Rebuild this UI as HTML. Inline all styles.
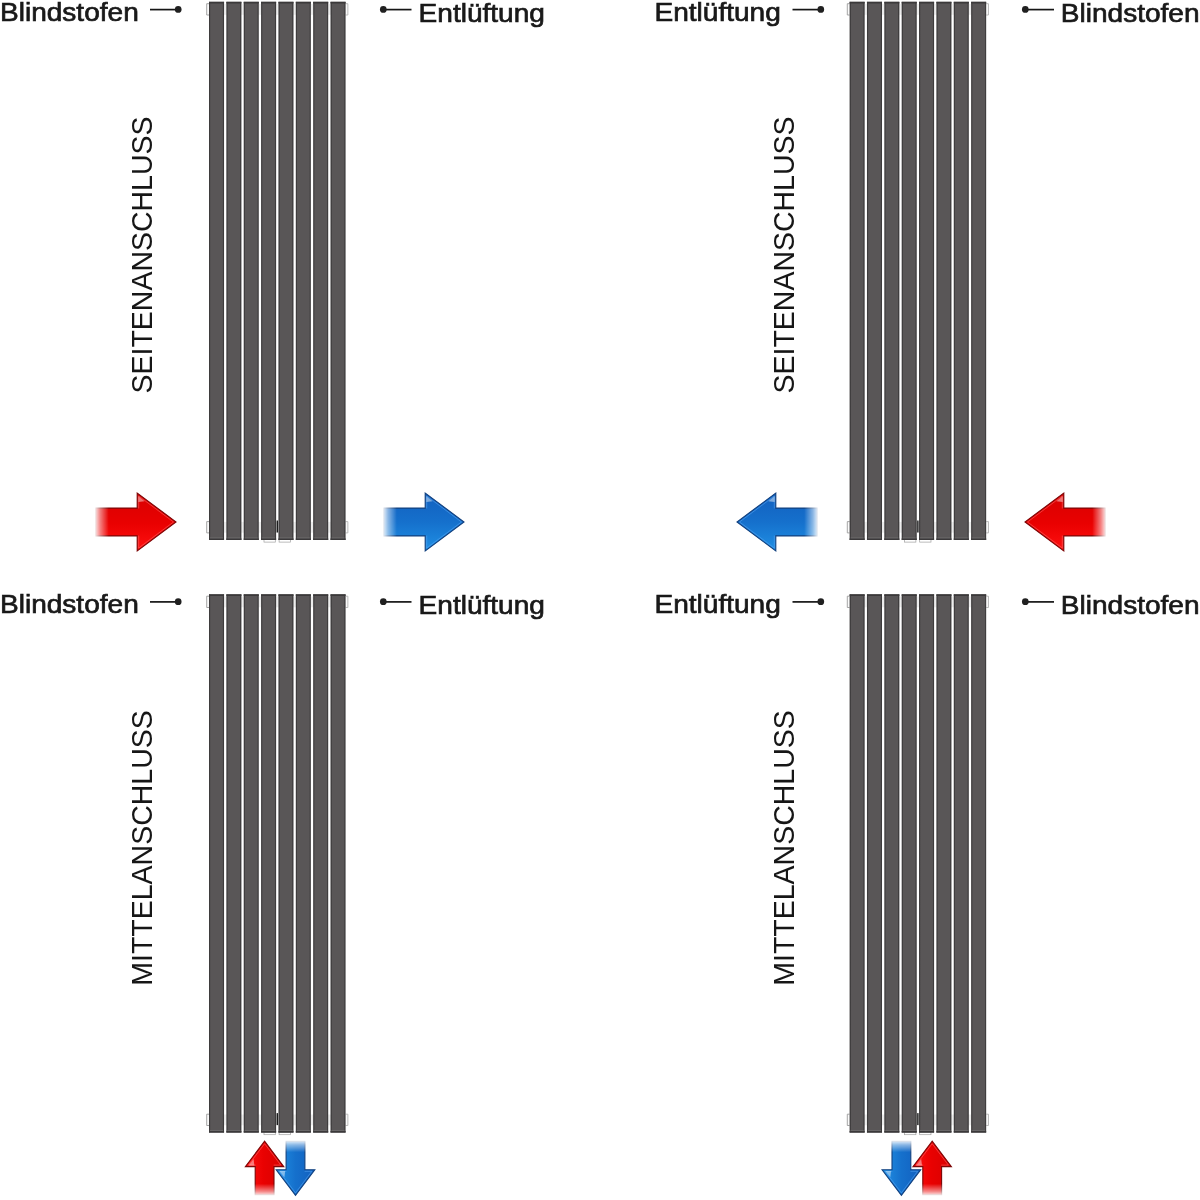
<!DOCTYPE html>
<html><head><meta charset="utf-8"><title>Anschluss</title>
<style>
html,body{margin:0;padding:0;background:#fff;}
body{width:1200px;height:1200px;overflow:hidden;font-family:"Liberation Sans",sans-serif;}
svg{display:block;font-family:"Liberation Sans",sans-serif;opacity:0.999;will-change:transform;}
</style></head><body>
<svg width="1200" height="1200" viewBox="0 0 1200 1200">
<defs>
<linearGradient id="bar" x1="0" x2="1" y1="0" y2="0">
<stop offset="0" stop-color="#3b393a"/><stop offset="0.06" stop-color="#403e3f"/><stop offset="0.11" stop-color="#595657"/><stop offset="0.89" stop-color="#595657"/><stop offset="0.94" stop-color="#403e3f"/><stop offset="1" stop-color="#3b393a"/>
</linearGradient>
<linearGradient id="redH" x1="0" x2="0" y1="0" y2="1">
<stop offset="0" stop-color="#d80000"/><stop offset="0.5" stop-color="#e80000"/><stop offset="1" stop-color="#ff1010"/>
</linearGradient>
<linearGradient id="blueH" x1="0" x2="0" y1="0" y2="1">
<stop offset="0" stop-color="#1260bf"/><stop offset="0.5" stop-color="#1570cc"/><stop offset="1" stop-color="#2090e4"/>
</linearGradient>
<linearGradient id="redV" x1="0" x2="1" y1="0" y2="0">
<stop offset="0" stop-color="#ff1010"/><stop offset="0.5" stop-color="#e80000"/><stop offset="1" stop-color="#d80000"/>
</linearGradient>
<linearGradient id="blueV" x1="0" x2="1" y1="0" y2="0">
<stop offset="0" stop-color="#2090e4"/><stop offset="0.5" stop-color="#1570cc"/><stop offset="1" stop-color="#1260bf"/>
</linearGradient>

<linearGradient id="ag0" gradientUnits="userSpaceOnUse" x1="95.50" y1="522.00" x2="108.80" y2="522.00"><stop offset="0" stop-color="#fff" stop-opacity="0.12"/><stop offset="0.35" stop-color="#fff" stop-opacity="0.5"/><stop offset="1" stop-color="#fff" stop-opacity="1"/></linearGradient><mask id="am0" maskUnits="userSpaceOnUse" x="0" y="0" width="1200" height="1200"><rect x="0" y="0" width="1200" height="1200" fill="url(#ag0)"/></mask>
<linearGradient id="ag1" gradientUnits="userSpaceOnUse" x1="383.50" y1="522.00" x2="396.80" y2="522.00"><stop offset="0" stop-color="#fff" stop-opacity="0.12"/><stop offset="0.35" stop-color="#fff" stop-opacity="0.5"/><stop offset="1" stop-color="#fff" stop-opacity="1"/></linearGradient><mask id="am1" maskUnits="userSpaceOnUse" x="0" y="0" width="1200" height="1200"><rect x="0" y="0" width="1200" height="1200" fill="url(#ag1)"/></mask>
<linearGradient id="ag2" gradientUnits="userSpaceOnUse" x1="817.50" y1="522.00" x2="804.20" y2="522.00"><stop offset="0" stop-color="#fff" stop-opacity="0.12"/><stop offset="0.35" stop-color="#fff" stop-opacity="0.5"/><stop offset="1" stop-color="#fff" stop-opacity="1"/></linearGradient><mask id="am2" maskUnits="userSpaceOnUse" x="0" y="0" width="1200" height="1200"><rect x="0" y="0" width="1200" height="1200" fill="url(#ag2)"/></mask>
<linearGradient id="ag3" gradientUnits="userSpaceOnUse" x1="1105.50" y1="522.00" x2="1092.20" y2="522.00"><stop offset="0" stop-color="#fff" stop-opacity="0.12"/><stop offset="0.35" stop-color="#fff" stop-opacity="0.5"/><stop offset="1" stop-color="#fff" stop-opacity="1"/></linearGradient><mask id="am3" maskUnits="userSpaceOnUse" x="0" y="0" width="1200" height="1200"><rect x="0" y="0" width="1200" height="1200" fill="url(#ag3)"/></mask>
<linearGradient id="ag4" gradientUnits="userSpaceOnUse" x1="264.60" y1="1195.10" x2="264.60" y2="1183.80"><stop offset="0" stop-color="#fff" stop-opacity="0.12"/><stop offset="0.35" stop-color="#fff" stop-opacity="0.5"/><stop offset="1" stop-color="#fff" stop-opacity="1"/></linearGradient><mask id="am4" maskUnits="userSpaceOnUse" x="0" y="0" width="1200" height="1200"><rect x="0" y="0" width="1200" height="1200" fill="url(#ag4)"/></mask>
<linearGradient id="ag5" gradientUnits="userSpaceOnUse" x1="295.50" y1="1140.90" x2="295.50" y2="1152.20"><stop offset="0" stop-color="#fff" stop-opacity="0.12"/><stop offset="0.35" stop-color="#fff" stop-opacity="0.5"/><stop offset="1" stop-color="#fff" stop-opacity="1"/></linearGradient><mask id="am5" maskUnits="userSpaceOnUse" x="0" y="0" width="1200" height="1200"><rect x="0" y="0" width="1200" height="1200" fill="url(#ag5)"/></mask>
<linearGradient id="ag6" gradientUnits="userSpaceOnUse" x1="901.40" y1="1140.90" x2="901.40" y2="1152.20"><stop offset="0" stop-color="#fff" stop-opacity="0.12"/><stop offset="0.35" stop-color="#fff" stop-opacity="0.5"/><stop offset="1" stop-color="#fff" stop-opacity="1"/></linearGradient><mask id="am6" maskUnits="userSpaceOnUse" x="0" y="0" width="1200" height="1200"><rect x="0" y="0" width="1200" height="1200" fill="url(#ag6)"/></mask>
<linearGradient id="ag7" gradientUnits="userSpaceOnUse" x1="932.20" y1="1195.10" x2="932.20" y2="1183.80"><stop offset="0" stop-color="#fff" stop-opacity="0.12"/><stop offset="0.35" stop-color="#fff" stop-opacity="0.5"/><stop offset="1" stop-color="#fff" stop-opacity="1"/></linearGradient><mask id="am7" maskUnits="userSpaceOnUse" x="0" y="0" width="1200" height="1200"><rect x="0" y="0" width="1200" height="1200" fill="url(#ag7)"/></mask>
</defs>
<rect width="1200" height="1200" fill="#fff"/>
<path d="M209.00,3.70 H206.70 V15.00 H209.00" fill="#fafafa" stroke="#9c9c9c" stroke-width="0.9"/>
<path d="M345.57,3.70 H347.87 V15.00 H345.57" fill="#fafafa" stroke="#b4b4b4" stroke-width="0.9"/>
<path d="M209.00,521.60 H206.70 V532.90 H209.00" fill="#fafafa" stroke="#9c9c9c" stroke-width="0.9"/>
<path d="M345.57,521.60 H347.87 V532.90 H345.57" fill="#fafafa" stroke="#b4b4b4" stroke-width="0.9"/>
<rect x="209.00" y="4.00" width="136.57" height="10.8" fill="#ededed"/>
<rect x="209.00" y="521.90" width="136.57" height="10.8" fill="#ededed"/>
<rect x="263.99" y="539.50" width="11.3" height="2.6" fill="#fff" stroke="#a0a0a0" stroke-width="0.7"/>
<rect x="279.09" y="539.50" width="11.3" height="2.6" fill="#fff" stroke="#a0a0a0" stroke-width="0.7"/>
<rect x="209.00" y="1.80" width="15.05" height="538.20" fill="url(#bar)"/>
<rect x="209.00" y="1.80" width="15.05" height="1.7" fill="#3b393a"/>
<rect x="209.00" y="538.40" width="15.05" height="1.6" fill="#3b393a"/>
<rect x="210.00" y="537.50" width="13.05" height="0.8" fill="#6e6c6d"/>
<rect x="226.36" y="1.80" width="15.05" height="538.20" fill="url(#bar)"/>
<rect x="226.36" y="1.80" width="15.05" height="1.7" fill="#3b393a"/>
<rect x="226.36" y="538.40" width="15.05" height="1.6" fill="#3b393a"/>
<rect x="227.36" y="537.50" width="13.05" height="0.8" fill="#6e6c6d"/>
<rect x="243.72" y="1.80" width="15.05" height="538.20" fill="url(#bar)"/>
<rect x="243.72" y="1.80" width="15.05" height="1.7" fill="#3b393a"/>
<rect x="243.72" y="538.40" width="15.05" height="1.6" fill="#3b393a"/>
<rect x="244.72" y="537.50" width="13.05" height="0.8" fill="#6e6c6d"/>
<rect x="261.08" y="1.80" width="15.05" height="538.20" fill="url(#bar)"/>
<rect x="261.08" y="1.80" width="15.05" height="1.7" fill="#3b393a"/>
<rect x="261.08" y="538.40" width="15.05" height="1.6" fill="#3b393a"/>
<rect x="262.08" y="537.50" width="13.05" height="0.8" fill="#6e6c6d"/>
<rect x="278.44" y="1.80" width="15.05" height="538.20" fill="url(#bar)"/>
<rect x="278.44" y="1.80" width="15.05" height="1.7" fill="#3b393a"/>
<rect x="278.44" y="538.40" width="15.05" height="1.6" fill="#3b393a"/>
<rect x="279.44" y="537.50" width="13.05" height="0.8" fill="#6e6c6d"/>
<rect x="295.80" y="1.80" width="15.05" height="538.20" fill="url(#bar)"/>
<rect x="295.80" y="1.80" width="15.05" height="1.7" fill="#3b393a"/>
<rect x="295.80" y="538.40" width="15.05" height="1.6" fill="#3b393a"/>
<rect x="296.80" y="537.50" width="13.05" height="0.8" fill="#6e6c6d"/>
<rect x="313.16" y="1.80" width="15.05" height="538.20" fill="url(#bar)"/>
<rect x="313.16" y="1.80" width="15.05" height="1.7" fill="#3b393a"/>
<rect x="313.16" y="538.40" width="15.05" height="1.6" fill="#3b393a"/>
<rect x="314.16" y="537.50" width="13.05" height="0.8" fill="#6e6c6d"/>
<rect x="330.52" y="1.80" width="15.05" height="538.20" fill="url(#bar)"/>
<rect x="330.52" y="1.80" width="15.05" height="1.7" fill="#3b393a"/>
<rect x="330.52" y="538.40" width="15.05" height="1.6" fill="#3b393a"/>
<rect x="331.52" y="537.50" width="13.05" height="0.8" fill="#6e6c6d"/>
<rect x="276.59" y="520.50" width="1.4" height="12" fill="#1c1c1c"/>
<path d="M209.00,596.20 H206.70 V607.50 H209.00" fill="#fafafa" stroke="#9c9c9c" stroke-width="0.9"/>
<path d="M345.57,596.20 H347.87 V607.50 H345.57" fill="#fafafa" stroke="#b4b4b4" stroke-width="0.9"/>
<path d="M209.00,1114.20 H206.70 V1125.50 H209.00" fill="#fafafa" stroke="#9c9c9c" stroke-width="0.9"/>
<path d="M345.57,1114.20 H347.87 V1125.50 H345.57" fill="#fafafa" stroke="#b4b4b4" stroke-width="0.9"/>
<rect x="209.00" y="596.50" width="136.57" height="10.8" fill="#ededed"/>
<rect x="209.00" y="1114.50" width="136.57" height="10.8" fill="#ededed"/>
<rect x="263.99" y="1132.10" width="11.3" height="2.6" fill="#fff" stroke="#a0a0a0" stroke-width="0.7"/>
<rect x="279.09" y="1132.10" width="11.3" height="2.6" fill="#fff" stroke="#a0a0a0" stroke-width="0.7"/>
<rect x="209.00" y="594.30" width="15.05" height="538.30" fill="url(#bar)"/>
<rect x="209.00" y="594.30" width="15.05" height="1.7" fill="#3b393a"/>
<rect x="209.00" y="1131.00" width="15.05" height="1.6" fill="#3b393a"/>
<rect x="210.00" y="1130.10" width="13.05" height="0.8" fill="#6e6c6d"/>
<rect x="226.36" y="594.30" width="15.05" height="538.30" fill="url(#bar)"/>
<rect x="226.36" y="594.30" width="15.05" height="1.7" fill="#3b393a"/>
<rect x="226.36" y="1131.00" width="15.05" height="1.6" fill="#3b393a"/>
<rect x="227.36" y="1130.10" width="13.05" height="0.8" fill="#6e6c6d"/>
<rect x="243.72" y="594.30" width="15.05" height="538.30" fill="url(#bar)"/>
<rect x="243.72" y="594.30" width="15.05" height="1.7" fill="#3b393a"/>
<rect x="243.72" y="1131.00" width="15.05" height="1.6" fill="#3b393a"/>
<rect x="244.72" y="1130.10" width="13.05" height="0.8" fill="#6e6c6d"/>
<rect x="261.08" y="594.30" width="15.05" height="538.30" fill="url(#bar)"/>
<rect x="261.08" y="594.30" width="15.05" height="1.7" fill="#3b393a"/>
<rect x="261.08" y="1131.00" width="15.05" height="1.6" fill="#3b393a"/>
<rect x="262.08" y="1130.10" width="13.05" height="0.8" fill="#6e6c6d"/>
<rect x="278.44" y="594.30" width="15.05" height="538.30" fill="url(#bar)"/>
<rect x="278.44" y="594.30" width="15.05" height="1.7" fill="#3b393a"/>
<rect x="278.44" y="1131.00" width="15.05" height="1.6" fill="#3b393a"/>
<rect x="279.44" y="1130.10" width="13.05" height="0.8" fill="#6e6c6d"/>
<rect x="295.80" y="594.30" width="15.05" height="538.30" fill="url(#bar)"/>
<rect x="295.80" y="594.30" width="15.05" height="1.7" fill="#3b393a"/>
<rect x="295.80" y="1131.00" width="15.05" height="1.6" fill="#3b393a"/>
<rect x="296.80" y="1130.10" width="13.05" height="0.8" fill="#6e6c6d"/>
<rect x="313.16" y="594.30" width="15.05" height="538.30" fill="url(#bar)"/>
<rect x="313.16" y="594.30" width="15.05" height="1.7" fill="#3b393a"/>
<rect x="313.16" y="1131.00" width="15.05" height="1.6" fill="#3b393a"/>
<rect x="314.16" y="1130.10" width="13.05" height="0.8" fill="#6e6c6d"/>
<rect x="330.52" y="594.30" width="15.05" height="538.30" fill="url(#bar)"/>
<rect x="330.52" y="594.30" width="15.05" height="1.7" fill="#3b393a"/>
<rect x="330.52" y="1131.00" width="15.05" height="1.6" fill="#3b393a"/>
<rect x="331.52" y="1130.10" width="13.05" height="0.8" fill="#6e6c6d"/>
<rect x="276.59" y="1113.10" width="1.4" height="12" fill="#1c1c1c"/>
<path d="M849.60,3.70 H847.30 V15.00 H849.60" fill="#fafafa" stroke="#9c9c9c" stroke-width="0.9"/>
<path d="M986.17,3.70 H988.47 V15.00 H986.17" fill="#fafafa" stroke="#b4b4b4" stroke-width="0.9"/>
<path d="M849.60,521.60 H847.30 V532.90 H849.60" fill="#fafafa" stroke="#9c9c9c" stroke-width="0.9"/>
<path d="M986.17,521.60 H988.47 V532.90 H986.17" fill="#fafafa" stroke="#b4b4b4" stroke-width="0.9"/>
<rect x="849.60" y="4.00" width="136.57" height="10.8" fill="#ededed"/>
<rect x="849.60" y="521.90" width="136.57" height="10.8" fill="#ededed"/>
<rect x="904.59" y="539.50" width="11.3" height="2.6" fill="#fff" stroke="#a0a0a0" stroke-width="0.7"/>
<rect x="919.68" y="539.50" width="11.3" height="2.6" fill="#fff" stroke="#a0a0a0" stroke-width="0.7"/>
<rect x="849.60" y="1.80" width="15.05" height="538.20" fill="url(#bar)"/>
<rect x="849.60" y="1.80" width="15.05" height="1.7" fill="#3b393a"/>
<rect x="849.60" y="538.40" width="15.05" height="1.6" fill="#3b393a"/>
<rect x="850.60" y="537.50" width="13.05" height="0.8" fill="#6e6c6d"/>
<rect x="866.96" y="1.80" width="15.05" height="538.20" fill="url(#bar)"/>
<rect x="866.96" y="1.80" width="15.05" height="1.7" fill="#3b393a"/>
<rect x="866.96" y="538.40" width="15.05" height="1.6" fill="#3b393a"/>
<rect x="867.96" y="537.50" width="13.05" height="0.8" fill="#6e6c6d"/>
<rect x="884.32" y="1.80" width="15.05" height="538.20" fill="url(#bar)"/>
<rect x="884.32" y="1.80" width="15.05" height="1.7" fill="#3b393a"/>
<rect x="884.32" y="538.40" width="15.05" height="1.6" fill="#3b393a"/>
<rect x="885.32" y="537.50" width="13.05" height="0.8" fill="#6e6c6d"/>
<rect x="901.68" y="1.80" width="15.05" height="538.20" fill="url(#bar)"/>
<rect x="901.68" y="1.80" width="15.05" height="1.7" fill="#3b393a"/>
<rect x="901.68" y="538.40" width="15.05" height="1.6" fill="#3b393a"/>
<rect x="902.68" y="537.50" width="13.05" height="0.8" fill="#6e6c6d"/>
<rect x="919.04" y="1.80" width="15.05" height="538.20" fill="url(#bar)"/>
<rect x="919.04" y="1.80" width="15.05" height="1.7" fill="#3b393a"/>
<rect x="919.04" y="538.40" width="15.05" height="1.6" fill="#3b393a"/>
<rect x="920.04" y="537.50" width="13.05" height="0.8" fill="#6e6c6d"/>
<rect x="936.40" y="1.80" width="15.05" height="538.20" fill="url(#bar)"/>
<rect x="936.40" y="1.80" width="15.05" height="1.7" fill="#3b393a"/>
<rect x="936.40" y="538.40" width="15.05" height="1.6" fill="#3b393a"/>
<rect x="937.40" y="537.50" width="13.05" height="0.8" fill="#6e6c6d"/>
<rect x="953.76" y="1.80" width="15.05" height="538.20" fill="url(#bar)"/>
<rect x="953.76" y="1.80" width="15.05" height="1.7" fill="#3b393a"/>
<rect x="953.76" y="538.40" width="15.05" height="1.6" fill="#3b393a"/>
<rect x="954.76" y="537.50" width="13.05" height="0.8" fill="#6e6c6d"/>
<rect x="971.12" y="1.80" width="15.05" height="538.20" fill="url(#bar)"/>
<rect x="971.12" y="1.80" width="15.05" height="1.7" fill="#3b393a"/>
<rect x="971.12" y="538.40" width="15.05" height="1.6" fill="#3b393a"/>
<rect x="972.12" y="537.50" width="13.05" height="0.8" fill="#6e6c6d"/>
<rect x="917.18" y="520.50" width="1.4" height="12" fill="#1c1c1c"/>
<path d="M849.60,596.20 H847.30 V607.50 H849.60" fill="#fafafa" stroke="#9c9c9c" stroke-width="0.9"/>
<path d="M986.17,596.20 H988.47 V607.50 H986.17" fill="#fafafa" stroke="#b4b4b4" stroke-width="0.9"/>
<path d="M849.60,1114.20 H847.30 V1125.50 H849.60" fill="#fafafa" stroke="#9c9c9c" stroke-width="0.9"/>
<path d="M986.17,1114.20 H988.47 V1125.50 H986.17" fill="#fafafa" stroke="#b4b4b4" stroke-width="0.9"/>
<rect x="849.60" y="596.50" width="136.57" height="10.8" fill="#ededed"/>
<rect x="849.60" y="1114.50" width="136.57" height="10.8" fill="#ededed"/>
<rect x="904.59" y="1132.10" width="11.3" height="2.6" fill="#fff" stroke="#a0a0a0" stroke-width="0.7"/>
<rect x="919.68" y="1132.10" width="11.3" height="2.6" fill="#fff" stroke="#a0a0a0" stroke-width="0.7"/>
<rect x="849.60" y="594.30" width="15.05" height="538.30" fill="url(#bar)"/>
<rect x="849.60" y="594.30" width="15.05" height="1.7" fill="#3b393a"/>
<rect x="849.60" y="1131.00" width="15.05" height="1.6" fill="#3b393a"/>
<rect x="850.60" y="1130.10" width="13.05" height="0.8" fill="#6e6c6d"/>
<rect x="866.96" y="594.30" width="15.05" height="538.30" fill="url(#bar)"/>
<rect x="866.96" y="594.30" width="15.05" height="1.7" fill="#3b393a"/>
<rect x="866.96" y="1131.00" width="15.05" height="1.6" fill="#3b393a"/>
<rect x="867.96" y="1130.10" width="13.05" height="0.8" fill="#6e6c6d"/>
<rect x="884.32" y="594.30" width="15.05" height="538.30" fill="url(#bar)"/>
<rect x="884.32" y="594.30" width="15.05" height="1.7" fill="#3b393a"/>
<rect x="884.32" y="1131.00" width="15.05" height="1.6" fill="#3b393a"/>
<rect x="885.32" y="1130.10" width="13.05" height="0.8" fill="#6e6c6d"/>
<rect x="901.68" y="594.30" width="15.05" height="538.30" fill="url(#bar)"/>
<rect x="901.68" y="594.30" width="15.05" height="1.7" fill="#3b393a"/>
<rect x="901.68" y="1131.00" width="15.05" height="1.6" fill="#3b393a"/>
<rect x="902.68" y="1130.10" width="13.05" height="0.8" fill="#6e6c6d"/>
<rect x="919.04" y="594.30" width="15.05" height="538.30" fill="url(#bar)"/>
<rect x="919.04" y="594.30" width="15.05" height="1.7" fill="#3b393a"/>
<rect x="919.04" y="1131.00" width="15.05" height="1.6" fill="#3b393a"/>
<rect x="920.04" y="1130.10" width="13.05" height="0.8" fill="#6e6c6d"/>
<rect x="936.40" y="594.30" width="15.05" height="538.30" fill="url(#bar)"/>
<rect x="936.40" y="594.30" width="15.05" height="1.7" fill="#3b393a"/>
<rect x="936.40" y="1131.00" width="15.05" height="1.6" fill="#3b393a"/>
<rect x="937.40" y="1130.10" width="13.05" height="0.8" fill="#6e6c6d"/>
<rect x="953.76" y="594.30" width="15.05" height="538.30" fill="url(#bar)"/>
<rect x="953.76" y="594.30" width="15.05" height="1.7" fill="#3b393a"/>
<rect x="953.76" y="1131.00" width="15.05" height="1.6" fill="#3b393a"/>
<rect x="954.76" y="1130.10" width="13.05" height="0.8" fill="#6e6c6d"/>
<rect x="971.12" y="594.30" width="15.05" height="538.30" fill="url(#bar)"/>
<rect x="971.12" y="594.30" width="15.05" height="1.7" fill="#3b393a"/>
<rect x="971.12" y="1131.00" width="15.05" height="1.6" fill="#3b393a"/>
<rect x="972.12" y="1130.10" width="13.05" height="0.8" fill="#6e6c6d"/>
<rect x="917.18" y="1113.10" width="1.4" height="12" fill="#1c1c1c"/>
<text transform="translate(0,20.6) scale(1.10,1)" font-size="25.5" fill="#1a1a1a" stroke="#151515" stroke-width="0.65">Blindstofen</text>
<line x1="150" y1="9.6" x2="176" y2="9.6" stroke="#161616" stroke-width="1.7"/>
<circle cx="178.2" cy="9.40" r="3.35" fill="#202020"/>
<text transform="translate(418.6,21.6) scale(1.10,1)" font-size="25.5" fill="#1a1a1a" stroke="#151515" stroke-width="0.65">Entlüftung</text>
<line x1="384" y1="9.6" x2="411.5" y2="9.6" stroke="#161616" stroke-width="1.7"/>
<circle cx="383.3" cy="9.40" r="3.35" fill="#202020"/>
<text transform="translate(654.5,20.6) scale(1.10,1)" font-size="25.5" fill="#1a1a1a" stroke="#151515" stroke-width="0.65">Entlüftung</text>
<line x1="792.5" y1="9.6" x2="819" y2="9.6" stroke="#161616" stroke-width="1.7"/>
<circle cx="820.8" cy="9.40" r="3.35" fill="#202020"/>
<text transform="translate(1060.8,21.6) scale(1.10,1)" font-size="25.5" fill="#1a1a1a" stroke="#151515" stroke-width="0.65">Blindstofen</text>
<line x1="1026" y1="9.6" x2="1054" y2="9.6" stroke="#161616" stroke-width="1.7"/>
<circle cx="1025.3" cy="9.40" r="3.35" fill="#202020"/>
<text transform="translate(0,612.9) scale(1.10,1)" font-size="25.5" fill="#1a1a1a" stroke="#151515" stroke-width="0.65">Blindstofen</text>
<line x1="150" y1="601.9" x2="176" y2="601.9" stroke="#161616" stroke-width="1.7"/>
<circle cx="178.2" cy="601.70" r="3.35" fill="#202020"/>
<text transform="translate(418.6,613.9) scale(1.10,1)" font-size="25.5" fill="#1a1a1a" stroke="#151515" stroke-width="0.65">Entlüftung</text>
<line x1="384" y1="601.9" x2="411.5" y2="601.9" stroke="#161616" stroke-width="1.7"/>
<circle cx="383.3" cy="601.70" r="3.35" fill="#202020"/>
<text transform="translate(654.5,612.9) scale(1.10,1)" font-size="25.5" fill="#1a1a1a" stroke="#151515" stroke-width="0.65">Entlüftung</text>
<line x1="792.5" y1="601.9" x2="819" y2="601.9" stroke="#161616" stroke-width="1.7"/>
<circle cx="820.8" cy="601.70" r="3.35" fill="#202020"/>
<text transform="translate(1060.8,613.9) scale(1.10,1)" font-size="25.5" fill="#1a1a1a" stroke="#151515" stroke-width="0.65">Blindstofen</text>
<line x1="1026" y1="601.9" x2="1054" y2="601.9" stroke="#161616" stroke-width="1.7"/>
<circle cx="1025.3" cy="601.70" r="3.35" fill="#202020"/>
<text transform="translate(151.6,255) rotate(-90) scale(1,1.04)" font-size="28.5" text-anchor="middle" fill="#161616">SEITENANSCHLUSS</text>
<text transform="translate(793.8,255) rotate(-90) scale(1,1.04)" font-size="28.5" text-anchor="middle" fill="#161616">SEITENANSCHLUSS</text>
<text transform="translate(151.6,848) rotate(-90) scale(1,1.04)" font-size="28.5" text-anchor="middle" fill="#161616">MITTELANSCHLUSS</text>
<text transform="translate(793.8,848) rotate(-90) scale(1,1.04)" font-size="28.5" text-anchor="middle" fill="#161616">MITTELANSCHLUSS</text>
<g mask="url(#am0)"><path d="M95.80,508.10 L137.20,508.10 L137.20,493.00 L176.00,522.00 L137.20,551.00 L137.20,535.90 L95.80,535.90 Z" fill="url(#redH)" stroke="#7c0606" stroke-width="1.1" stroke-linejoin="miter"/><path d="M138.70,508.40 L138.70,495.99 L173.49,522.00 L138.70,548.01 L138.70,535.60" fill="none" stroke="#ff6a6a" stroke-opacity="0.55" stroke-width="1"/><path d="M138.40,496.20 L138.40,502.00 L144.70,501.20 Z" fill="#fff" fill-opacity="0.45"/></g>
<g mask="url(#am1)"><path d="M383.80,508.10 L425.20,508.10 L425.20,493.00 L464.00,522.00 L425.20,551.00 L425.20,535.90 L383.80,535.90 Z" fill="url(#blueH)" stroke="#12407e" stroke-width="1.1" stroke-linejoin="miter"/><path d="M426.70,508.40 L426.70,495.99 L461.49,522.00 L426.70,548.01 L426.70,535.60" fill="none" stroke="#58a8f6" stroke-opacity="0.55" stroke-width="1"/><path d="M426.40,496.20 L426.40,502.00 L432.70,501.20 Z" fill="#fff" fill-opacity="0.45"/></g>
<g mask="url(#am2)"><path d="M817.20,508.10 L775.80,508.10 L775.80,493.00 L737.00,522.00 L775.80,551.00 L775.80,535.90 L817.20,535.90 Z" fill="url(#blueH)" stroke="#12407e" stroke-width="1.1" stroke-linejoin="miter"/><path d="M774.30,508.40 L774.30,495.99 L739.51,522.00 L774.30,548.01 L774.30,535.60" fill="none" stroke="#58a8f6" stroke-opacity="0.55" stroke-width="1"/><path d="M774.60,496.20 L774.60,502.00 L768.30,501.20 Z" fill="#fff" fill-opacity="0.45"/></g>
<g mask="url(#am3)"><path d="M1105.20,508.10 L1063.80,508.10 L1063.80,493.00 L1025.00,522.00 L1063.80,551.00 L1063.80,535.90 L1105.20,535.90 Z" fill="url(#redH)" stroke="#7c0606" stroke-width="1.1" stroke-linejoin="miter"/><path d="M1062.30,508.40 L1062.30,495.99 L1027.51,522.00 L1062.30,548.01 L1062.30,535.60" fill="none" stroke="#ff6a6a" stroke-opacity="0.55" stroke-width="1"/><path d="M1062.60,496.20 L1062.60,502.00 L1056.30,501.20 Z" fill="#fff" fill-opacity="0.45"/></g>
<g mask="url(#am4)"><path d="M255.20,1194.80 L255.20,1166.60 L245.40,1166.60 L264.60,1141.20 L283.80,1166.60 L274.00,1166.60 L274.00,1194.80 Z" fill="url(#redV)" stroke="#7c0606" stroke-width="1.1" stroke-linejoin="miter"/><path d="M255.50,1165.10 L248.41,1165.10 L264.60,1143.69 L280.79,1165.10 L273.70,1165.10" fill="none" stroke="#ff6a6a" stroke-opacity="0.55" stroke-width="1"/><path d="M248.60,1165.40 L254.40,1165.40 L253.60,1159.10 Z" fill="#fff" fill-opacity="0.45"/></g>
<g mask="url(#am5)"><path d="M286.10,1141.20 L286.10,1169.80 L276.20,1169.80 L295.50,1195.40 L314.80,1169.80 L304.90,1169.80 L304.90,1141.20 Z" fill="url(#blueV)" stroke="#12407e" stroke-width="1.1" stroke-linejoin="miter"/><path d="M286.40,1171.30 L279.21,1171.30 L295.50,1192.91 L311.79,1171.30 L304.60,1171.30" fill="none" stroke="#58a8f6" stroke-opacity="0.55" stroke-width="1"/><path d="M279.40,1171.00 L285.20,1171.00 L284.40,1177.30 Z" fill="#fff" fill-opacity="0.45"/></g>
<g mask="url(#am6)"><path d="M892.00,1141.20 L892.00,1169.80 L882.10,1169.80 L901.40,1195.40 L920.70,1169.80 L910.80,1169.80 L910.80,1141.20 Z" fill="url(#blueV)" stroke="#12407e" stroke-width="1.1" stroke-linejoin="miter"/><path d="M892.30,1171.30 L885.11,1171.30 L901.40,1192.91 L917.69,1171.30 L910.50,1171.30" fill="none" stroke="#58a8f6" stroke-opacity="0.55" stroke-width="1"/><path d="M885.30,1171.00 L891.10,1171.00 L890.30,1177.30 Z" fill="#fff" fill-opacity="0.45"/></g>
<g mask="url(#am7)"><path d="M922.80,1194.80 L922.80,1166.60 L913.00,1166.60 L932.20,1141.20 L951.40,1166.60 L941.60,1166.60 L941.60,1194.80 Z" fill="url(#redV)" stroke="#7c0606" stroke-width="1.1" stroke-linejoin="miter"/><path d="M923.10,1165.10 L916.01,1165.10 L932.20,1143.69 L948.39,1165.10 L941.30,1165.10" fill="none" stroke="#ff6a6a" stroke-opacity="0.55" stroke-width="1"/><path d="M916.20,1165.40 L922.00,1165.40 L921.20,1159.10 Z" fill="#fff" fill-opacity="0.45"/></g>
</svg></body></html>
